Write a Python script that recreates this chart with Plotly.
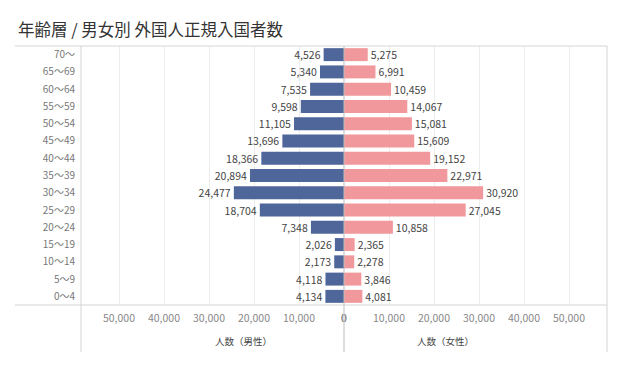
import plotly.graph_objects as go

ages = ["0～4", "5～9", "10～14", "15～19", "20～24", "25～29", "30～34", "35～39",
        "40～44", "45～49", "50～54", "55～59", "60～64", "65～69", "70～"]
male = [4134, 4118, 2173, 2026, 7348, 18704, 24477, 20894, 18366, 13696, 11105, 9598, 7535, 5340, 4526]
female = [4081, 3846, 2278, 2365, 10858, 27045, 30920, 22971, 19152, 15609, 15081, 14067, 10459, 6991, 5275]
tick_vals = [0, 10000, 20000, 30000, 40000, 50000]
tick_text = ["0", "10,000", "20,000", "30,000", "40,000", "50,000"]

FONT = "Noto Sans CJK JP, Noto Sans, sans-serif"
BLUE = "#4E6699"
PINK = "#F1989C"
LINE = "#D4D4D4"
GRID = "#EDEDED"

# page has an 8px body margin; figure is sized so it fits the 629x369 window
W, H = 613, 353
L, R, T, B = 73, 14, 38, 56
PW, PH = W - L - R, H - T - B

fig = go.Figure()
fig.add_trace(go.Bar(
    y=ages, x=male, orientation="h", xaxis="x", yaxis="y",
    marker=dict(color=BLUE, line=dict(width=0)), width=0.75,
    text=[f"{v:,}" for v in male], textposition="outside", cliponaxis=False,
    constraintext="none",
    textfont=dict(family=FONT, size=10.5, color="#444"), hoverinfo="skip",
))
fig.add_trace(go.Bar(
    y=ages, x=female, orientation="h", xaxis="x2", yaxis="y",
    marker=dict(color=PINK, line=dict(width=0)), width=0.75,
    text=[f"{v:,}" for v in female], textposition="outside", cliponaxis=False,
    constraintext="none",
    textfont=dict(family=FONT, size=10.5, color="#444"), hoverinfo="skip",
))

XMAX = 58444
axis_common = dict(
    tickvals=tick_vals, ticktext=tick_text, showgrid=True, gridcolor=GRID, gridwidth=1,
    zeroline=False, showline=False, ticks="", ticklabelstandoff=5,
    tickfont=dict(family=FONT, size=10.5, color="#888"), fixedrange=True,
)
fig.update_layout(
    width=W, height=H,
    margin=dict(l=L, r=R, t=T, b=B, autoexpand=False),
    paper_bgcolor="white", plot_bgcolor="white",
    showlegend=False, bargap=0.25,
    font=dict(family=FONT, color="#333"),
    title=dict(text="年齢層 / 男女別 外国人正規入国者数", x=10 / W, xanchor="left",
               y=1 - 22 / H, yanchor="middle", font=dict(family=FONT, size=16.5, color="#333")),
    xaxis=dict(domain=[0, 0.5], range=[XMAX, 0], **axis_common),
    xaxis2=dict(domain=[0.5, 1], range=[0, XMAX], anchor="y", **axis_common),
    yaxis=dict(categoryorder="array", categoryarray=ages, showgrid=False, zeroline=False,
               ticks="", ticklabelstandoff=5, tickfont=dict(family=FONT, size=10, color="#777"),
               fixedrange=True),
)

x_left = -66 / PW
y_bot = -47 / PH
shapes = [
    dict(type="line", xref="paper", yref="paper", x0=x_left, x1=1, y0=1, y1=1, line=dict(color=LINE, width=1)),
    dict(type="line", xref="paper", yref="paper", x0=x_left, x1=1, y0=0, y1=0, line=dict(color=LINE, width=1)),
    dict(type="line", xref="paper", yref="paper", x0=0, x1=0, y0=y_bot, y1=1, line=dict(color=LINE, width=1)),
    dict(type="line", xref="paper", yref="paper", x0=1, x1=1, y0=y_bot, y1=1, line=dict(color=LINE, width=1)),
    dict(type="line", xref="paper", yref="paper", x0=0.5, x1=0.5, y0=y_bot, y1=1, line=dict(color="#BDBDBD", width=1)),
]
fig.update_layout(shapes=shapes)

y_title = -36 / PH
fig.add_annotation(text="人数（男性）", xref="paper", yref="paper", x=0.25, y=y_title,
                   showarrow=False, font=dict(family=FONT, size=9.5, color="#444"), yanchor="middle")
fig.add_annotation(text="人数（女性）", xref="paper", yref="paper", x=0.75, y=y_title,
                   showarrow=False, font=dict(family=FONT, size=9.5, color="#444"), yanchor="middle")

fig.write_html("out.html")
